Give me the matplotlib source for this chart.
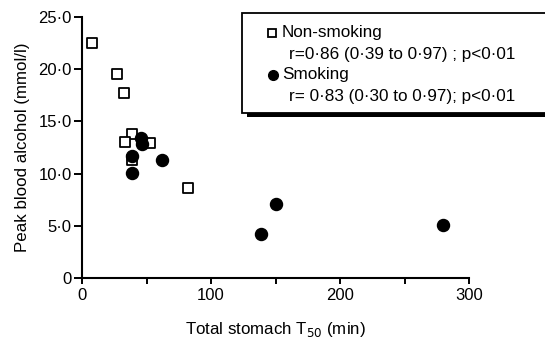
import matplotlib
matplotlib.use("Agg")
from matplotlib import pyplot as plt
from matplotlib.patches import Rectangle
from matplotlib.ticker import FixedLocator, FuncFormatter

plt.rcParams['font.family'] = ['Liberation Sans', 'DejaVu Sans']

# non-smoking (open squares)
ns_t50 = [8, 27, 32.6, 39, 33, 52.6, 38.6, 81.8]
ns_alc = [22.5, 19.5, 17.7, 13.8, 13.0, 12.9, 11.3, 8.6]
# smoking (filled circles)
sm_t50 = [45.6, 46.4, 38.6, 61.9, 39, 150.5, 139, 279.5]
sm_alc = [13.4, 12.8, 11.7, 11.3, 10.1, 7.1, 4.2, 5.1]

yticks = [0, 5, 10, 15, 20, 25]
xticks = [0, 100, 200, 300]

W, H = 545, 341
fig = plt.figure(figsize=(W / 100, H / 100), dpi=100)
ax = fig.add_axes([82 / W, 1 - 278 / H, (469 - 82) / W, (278 - 17) / H])

ax.scatter(ns_t50, ns_alc, marker='s', s=62, facecolor='white', edgecolor='black',
           linewidth=1.3, zorder=3, clip_on=False)
ax.scatter(sm_t50, sm_alc, marker='o', s=75, color='black', zorder=4, clip_on=False)

ax.set_xlim(0, 300)
ax.set_ylim(0, 25)
ax.spines['top'].set_visible(False)
ax.spines['right'].set_visible(False)
for s in ['left', 'bottom']:
    ax.spines[s].set_linewidth(1.5)

ax.set_yticks(yticks)
ax.yaxis.set_major_formatter(FuncFormatter(lambda v, p: '0' if v == 0 else ('%.1f' % v).replace('.', '\u00b7')))
ax.set_xticks(xticks)
ax.xaxis.set_minor_locator(FixedLocator([50, 150, 250]))
ax.tick_params(which='both', direction='out', width=1.4, labelsize=12)
ax.tick_params(axis='y', which='major', length=6, pad=1.5)
ax.tick_params(axis='x', which='both', length=4, pad=3.5)

ax.set_xlabel('Total stomach T$_{50}$ (min)', fontsize=12.2, labelpad=12)
ax.set_ylabel('Peak blood alcohol (mmol/l)', fontsize=12.2, labelpad=6)

# legend box drawn by hand (with a dark shadow), runs off the right edge
def fx(px):
    return px / W

def fy(py):
    return 1 - py / H

fig.patches.append(Rectangle((fx(247), fy(117)), fx(560) - fx(247), fy(17) - fy(117),
                             transform=fig.transFigure, facecolor='black', edgecolor='none'))
fig.patches.append(Rectangle((fx(242), fy(113)), fx(560) - fx(242), fy(13) - fy(113),
                             transform=fig.transFigure, facecolor='white', edgecolor='black',
                             linewidth=1.3))
fig.lines.append(plt.Line2D([fx(272)], [fy(33)], transform=fig.transFigure, marker='s',
                            markersize=6, markerfacecolor='white', markeredgecolor='black',
                            markeredgewidth=1.3))
fig.lines.append(plt.Line2D([fx(273)], [fy(75)], transform=fig.transFigure, marker='o',
                            markersize=7, color='black'))
fs = 12.3
fig.text(fx(282), fy(33), 'Non-smoking', fontsize=fs, va='center')
fig.text(fx(289), fy(54), 'r=0\u00b786 (0\u00b739 to 0\u00b797) ; p<0\u00b701', fontsize=fs, va='center')
fig.text(fx(282), fy(75), 'Smoking', fontsize=fs, va='center')
fig.text(fx(289), fy(97), 'r= 0\u00b783 (0\u00b730 to 0\u00b797); p<0\u00b701', fontsize=fs, va='center')

fig.savefig('out.png', dpi=100)
